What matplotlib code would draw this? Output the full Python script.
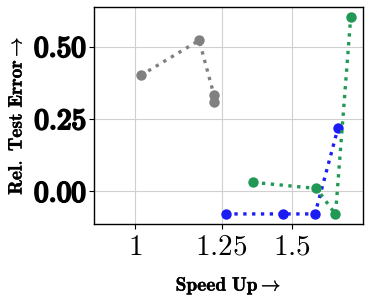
import matplotlib
matplotlib.use("Agg")
import matplotlib.pyplot as plt
import matplotlib.patheffects as pe
from matplotlib.ticker import FixedLocator, NullLocator, FixedFormatter

plt.rcParams['mathtext.fontset'] = 'cm'
plt.rcParams['font.family'] = 'serif'
plt.rcParams['font.serif'] = ['cmr10', 'DejaVu Serif']
plt.rcParams['axes.formatter.use_mathtext'] = True

gray_x = [1.015, 1.18, 1.226, 1.226]
gray_y = [0.40, 0.521, 0.332, 0.309]
blue_x = [1.263, 1.466, 1.590, 1.687]
blue_y = [-0.078, -0.078, -0.078, 0.219]
green_x = [1.356, 1.596, 1.676, 1.743]
green_y = [0.031, 0.010, -0.079, 0.601]

xticks = [1, 1.25, 1.5]
xtick_labels = [r'$1$', r'$1.25$', r'$1.5$']
yticks = [0.0, 0.25, 0.5]
ytick_labels = [r'$\mathbf{0.00}$', r'$\mathbf{0.25}$', r'$\mathbf{0.50}$']

fig = plt.figure(figsize=(3.69, 2.96), dpi=100)
ax = fig.add_axes([0.2556, 0.243, 0.727, 0.732])

series = [(gray_x, gray_y, '#808080'), (blue_x, blue_y, '#1c1cf5'), (green_x, green_y, '#219955')]
for xs, ys, c in series:
    ax.plot(xs, ys, linestyle=':', color=c, linewidth=2.4, marker='o', markersize=7.5,
            markeredgewidth=0, zorder=3)

ax.set_xscale('log')
ax.set_xlim(0.901, 1.797)
ax.set_ylim(-0.113, 0.635)
ax.xaxis.set_major_locator(FixedLocator(xticks))
ax.xaxis.set_major_formatter(FixedFormatter(xtick_labels))
ax.xaxis.set_minor_locator(NullLocator())
ax.set_yticks(yticks)
ax.set_yticklabels(ytick_labels)
ax.tick_params(axis='x', labelsize=21, pad=4)
ax.tick_params(axis='y', labelsize=21, pad=2)
for t in ax.get_yticklabels():
    t.set_path_effects([pe.withStroke(linewidth=1.5, foreground='black')])
ax.grid(True, color='#d0d0d0', linewidth=0.8, zorder=0)
ax.set_axisbelow(True)
for s in ax.spines.values():
    s.set_linewidth(1.0)

lbl = ax.set_xlabel(r'$\mathbf{Speed\ Up}\rightarrow$', fontsize=14, labelpad=10)
lbl.set_path_effects([pe.withStroke(linewidth=0.25, foreground='black')])
lbl2 = ax.set_ylabel(r'$\mathbf{Rel.\ Test\ Error}\rightarrow$', fontsize=14, labelpad=6)
lbl2.set_path_effects([pe.withStroke(linewidth=0.25, foreground='black')])

fig.savefig('out.png', dpi=100)
